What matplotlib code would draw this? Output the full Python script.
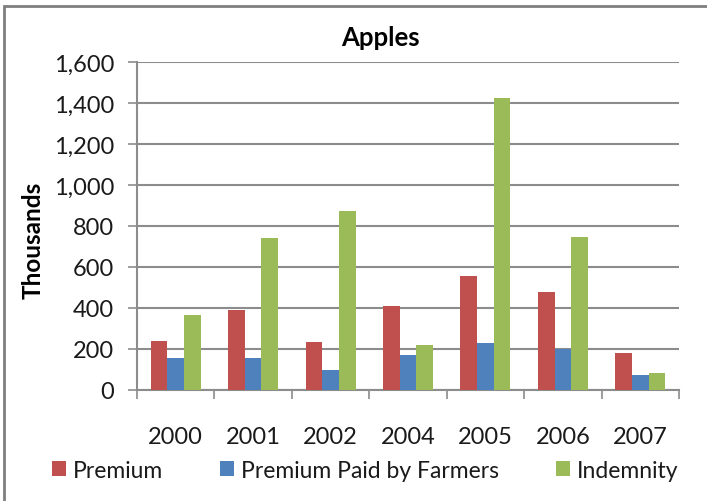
import numpy as np
import matplotlib
matplotlib.use("Agg")
import matplotlib.pyplot as plt
from matplotlib.patches import Rectangle

plt.rcParams['font.family'] = ['Lato', 'DejaVu Sans']

years = ['2000', '2001', '2002', '2004', '2005', '2006', '2007']
premium = [239, 391, 234, 410, 554, 479, 182]
premium_farmers = [158, 158, 96, 169, 228, 202, 72]
indemnity = [366, 741, 873, 220, 1425, 747, 85]

series = [('Premium', premium, '#C0504D'),
          ('Premium Paid by Farmers', premium_farmers, '#4F81BD'),
          ('Indemnity', indemnity, '#9BBB59')]

W, H = 707, 502
fig = plt.figure(figsize=(W / 100, H / 100), dpi=100)

# plot area in pixels
left, right, top, bottom = 137, 679, 63, 391
ax = fig.add_axes([left / W, 1 - bottom / H, (right - left) / W, (bottom - top) / H])

grid_col = '#8c8c8c'
x = np.arange(len(years))
bw = 0.215
for i, (name, vals, col) in enumerate(series):
    ax.bar(x + (i - 1) * bw, vals, bw, color=col, label=name, zorder=3)

ax.set_xlim(-0.5, len(years) - 0.5)
ax.set_ylim(0, 1600)
ax.set_yticks(np.arange(0, 1601, 200))
ax.set_yticklabels(['{:,}'.format(v) for v in range(0, 1601, 200)])
ax.yaxis.grid(True, color=grid_col, lw=1.5, zorder=0)

# category labels on minor ticks, boundary marks on major ticks
ax.set_xticks(np.arange(-0.5, len(years)), minor=False)
ax.set_xticklabels([])
ax.set_xticks(x, minor=True)
ax.set_xticklabels(years, minor=True)
ax.tick_params(axis='x', which='minor', length=0, pad=26, labelsize=17, colors='#1a1a1a')
ax.tick_params(axis='x', which='major', length=6.5, width=1.2, color=grid_col)
ax.tick_params(axis='y', length=6.5, width=1.2, color=grid_col, pad=10,
               labelsize=17, labelcolor='#1a1a1a')

for s in ['top', 'right']:
    ax.spines[s].set_visible(False)
for s in ['left', 'bottom']:
    ax.spines[s].set_color(grid_col)
    ax.spines[s].set_linewidth(1.5)

ax.set_ylabel('Thousands', fontsize=17.5, fontweight='bold')
ax.yaxis.set_label_coords(-0.17, 0.46)
fig.text(380 / W, 1 - 38 / H, 'Apples', ha='center', va='center',
         fontsize=18.5, fontweight='bold')

leg = fig.legend(loc='center', bbox_to_anchor=(365 / W, 1 - 471 / H), ncol=3,
                 frameon=False, fontsize=16.5, handlelength=0.6, handleheight=0.6,
                 handletextpad=0.3, columnspacing=2.5, borderaxespad=0)
for t in leg.get_texts():
    t.set_color('#1a1a1a')

# outer chart border
fig.patches.append(Rectangle((4 / W, -0.1), 1.2, 1 - 7 / H + 0.1, transform=fig.transFigure,
                             fill=False, edgecolor='#7f7f7f', lw=2))

fig.savefig('out.png', dpi=100)
